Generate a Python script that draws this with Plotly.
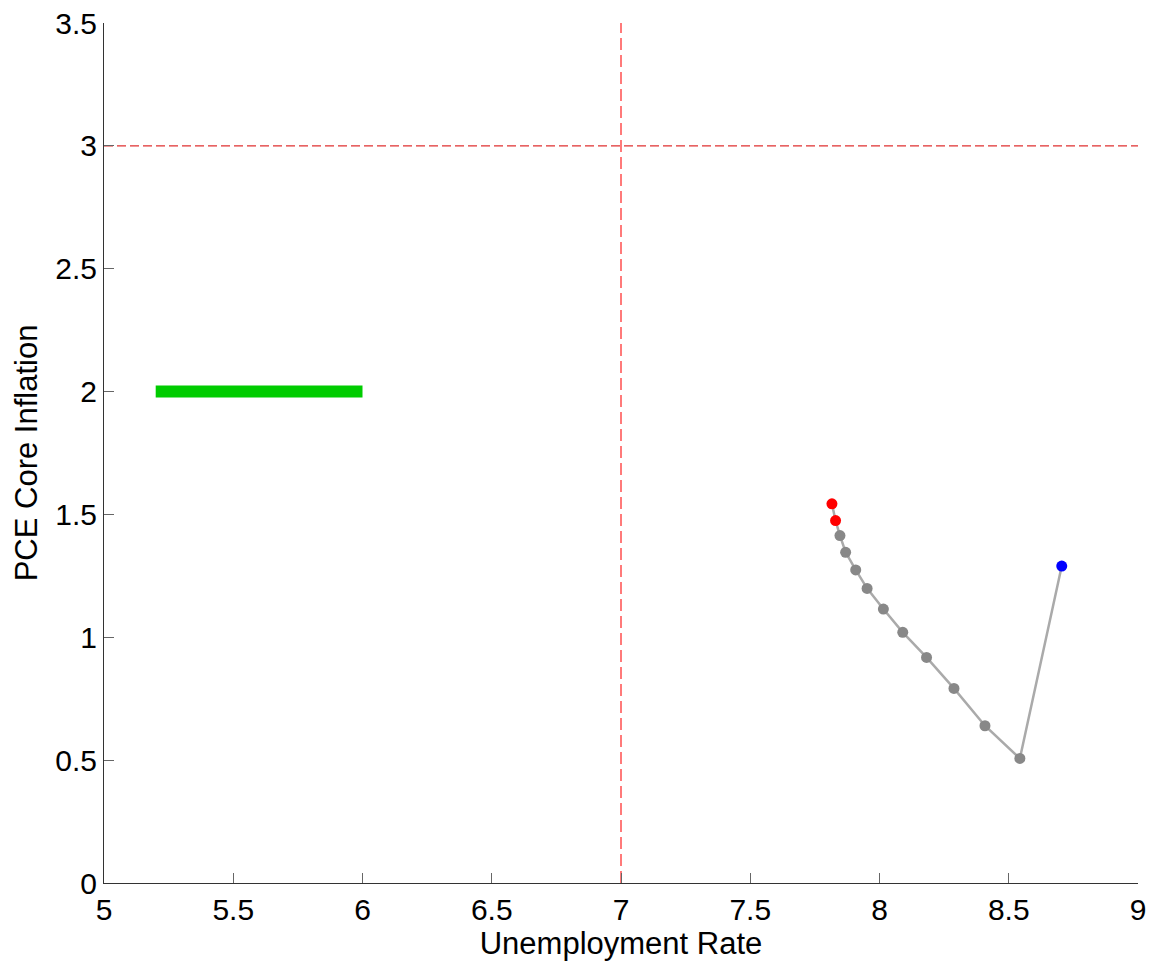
import plotly.graph_objects as go

# Path data (unemployment rate, core PCE inflation)
unemp = [7.816, 7.830, 7.847, 7.869, 7.908, 7.952, 8.015, 8.090, 8.182, 8.288, 8.408, 8.543, 8.705]
infl = [1.543, 1.475, 1.414, 1.346, 1.274, 1.199, 1.115, 1.020, 0.918, 0.792, 0.640, 0.507, 1.290]
point_colors = ["red", "red"] + ["#888888"] * 10 + ["blue"]

target_x = [5.2, 6.0]
target_y = [2.0, 2.0]

unemp_threshold = 7.0
infl_threshold = 3.0

x_ticks = [5, 5.5, 6, 6.5, 7, 7.5, 8, 8.5, 9]
x_tick_text = ["5", "5.5", "6", "6.5", "7", "7.5", "8", "8.5", "9"]
y_ticks = [0, 0.5, 1, 1.5, 2, 2.5, 3, 3.5]
y_tick_text = ["0", "0.5", "1", "1.5", "2", "2.5", "3", "3.5"]

fig = go.Figure()

fig.add_trace(go.Scatter(
    x=target_x, y=target_y, mode="lines",
    line=dict(color="#00cc00", width=12), showlegend=False, hoverinfo="skip"))

fig.add_trace(go.Scatter(
    x=[unemp_threshold, unemp_threshold], y=[0, 3.5], mode="lines",
    line=dict(color="#ff7a7a", width=2, dash="12px,5px"), showlegend=False))

fig.add_trace(go.Scatter(
    x=[5, 9], y=[infl_threshold, infl_threshold], mode="lines",
    line=dict(color="#e03030", width=1.3, dash="9px,4px"), showlegend=False))

fig.add_trace(go.Scatter(
    x=unemp, y=infl, mode="lines",
    line=dict(color="#aaaaaa", width=2.5), showlegend=False))

fig.add_trace(go.Scatter(
    x=unemp, y=infl, mode="markers",
    marker=dict(color=point_colors, size=11, line=dict(width=0)), showlegend=False))

fig.update_layout(
    width=1146, height=955,
    margin=dict(l=96, r=16, t=15, b=80),
    paper_bgcolor="white", plot_bgcolor="white",
    font=dict(family="Liberation Sans, Arial, sans-serif", size=30, color="black"),
    xaxis=dict(
        range=[5, 9], tickvals=x_ticks, ticktext=x_tick_text, automargin=False,
        ticklabeloverflow="allow",
        showgrid=False, zeroline=False, showline=True, linecolor="#333333", linewidth=1,
        ticks="inside", ticklen=10, tickcolor="#666666", tickfont=dict(size=30),
        title=dict(text="Unemployment Rate", font=dict(size=31), standoff=2),
    ),
    yaxis=dict(
        range=[0, 3.5], tickvals=y_ticks, ticktext=y_tick_text, automargin=False,
        ticklabeloverflow="allow",
        showgrid=False, zeroline=False, showline=True, linecolor="#333333", linewidth=1,
        ticks="inside", ticklen=10, tickcolor="#666666", tickfont=dict(size=30),
        title=dict(text="PCE Core Inflation", font=dict(size=31), standoff=8),
    ),
)

fig.write_html("out.html")
